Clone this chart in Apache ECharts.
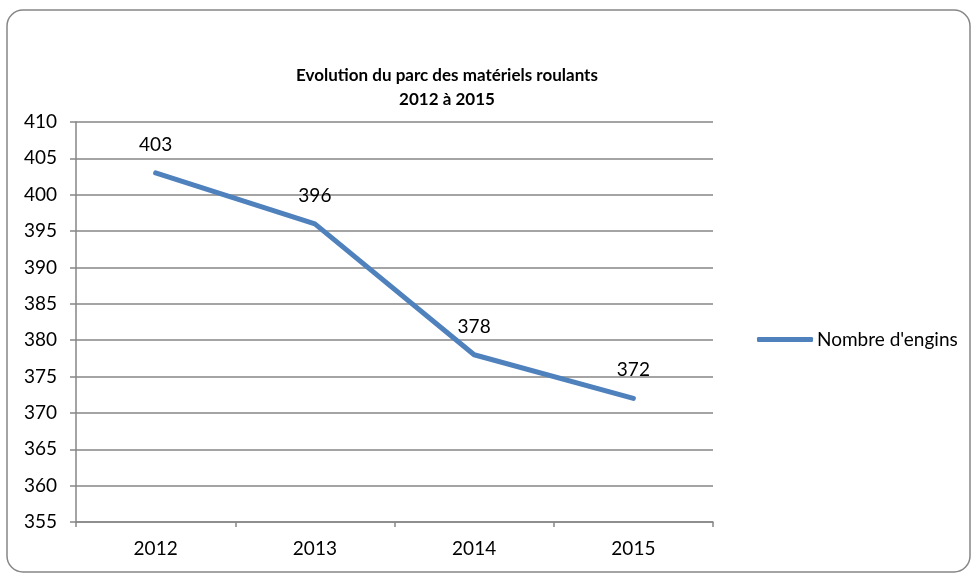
<!DOCTYPE html>
<html>
<head>
<meta charset="utf-8">
<script src="https://cdn.jsdelivr.net/npm/echarts@6/dist/echarts.min.js"></script>
<style>
  html, body { margin: 0; padding: 0; background: #fff; }
  #chart { width: 978px; height: 577px; }
</style>
</head>
<body>
<div id="chart"></div>
<script>
// données du graphique
var annees = ['2012', '2013', '2014', '2015'];
var nombreEngins = [403, 396, 378, 372];
var nomSerie = "Nombre d'engins";
var titreLignes = ['Evolution du parc des matériels roulants', '2012 à 2015'];

var police = 'Lato, "Open Sans", sans-serif';
var gris = '#868686';
var bleu = '#4F81BD';

var chart = echarts.init(document.getElementById('chart'));

var option = {
    animation: false,
    backgroundColor: '#fff',
    graphic: [{
        type: 'rect',
        shape: { x: 7, y: 10, width: 963, height: 562, r: 16 },
        style: { fill: 'none', stroke: gris, lineWidth: 1.5 },
        silent: true
    }],
    title: {
        text: titreLignes.join('\n'),
        left: 442,
        top: 59,
        textAlign: 'center',
        textStyle: {
            fontFamily: police,
            fontSize: 17,
            fontWeight: 'bold',
            color: '#000',
            lineHeight: 24
        }
    },
    legend: {
        data: [{ name: nomSerie, icon: 'roundRect' }],
        left: 752,
        top: 325,
        itemWidth: 56,
        itemHeight: 5,
        itemGap: 4,
        itemStyle: { color: bleu },
        textStyle: {
            fontFamily: police,
            fontSize: 19,
            color: '#000',
            padding: [0, 0, 0, -1]
        }
    },
    grid: {
        left: 76,
        right: 265,
        top: 122,
        bottom: 55
    },
    xAxis: {
        type: 'category',
        data: annees,
        boundaryGap: true,
        axisLine: { lineStyle: { color: gris, width: 1.5 } },
        axisTick: {
            show: true,
            length: 5,
            lineStyle: { color: gris, width: 1.5 }
        },
        axisLabel: {
            margin: 17,
            fontFamily: police,
            fontSize: 19,
            color: '#000'
        }
    },
    yAxis: {
        type: 'value',
        min: 355,
        max: 410,
        interval: 5,
        axisLine: { show: true, lineStyle: { color: gris, width: 1.5 } },
        axisTick: {
            show: true,
            length: 6,
            lineStyle: { color: gris, width: 1.5 }
        },
        splitLine: { lineStyle: { color: gris, width: 1.5 } },
        axisLabel: {
            margin: 19,
            fontFamily: police,
            fontSize: 19,
            color: '#000'
        }
    },
    series: [{
        name: nomSerie,
        type: 'line',
        data: nombreEngins,
        symbol: 'circle',
        symbolSize: 1,
        showSymbol: true,
        lineStyle: {
            color: bleu,
            width: 5,
            cap: 'round',
            join: 'round'
        },
        itemStyle: { color: bleu },
        label: {
            show: true,
            position: 'top',
            distance: 18,
            fontFamily: police,
            fontSize: 19,
            color: '#000'
        }
    }]
};

chart.setOption(option);
</script>
</body>
</html>
